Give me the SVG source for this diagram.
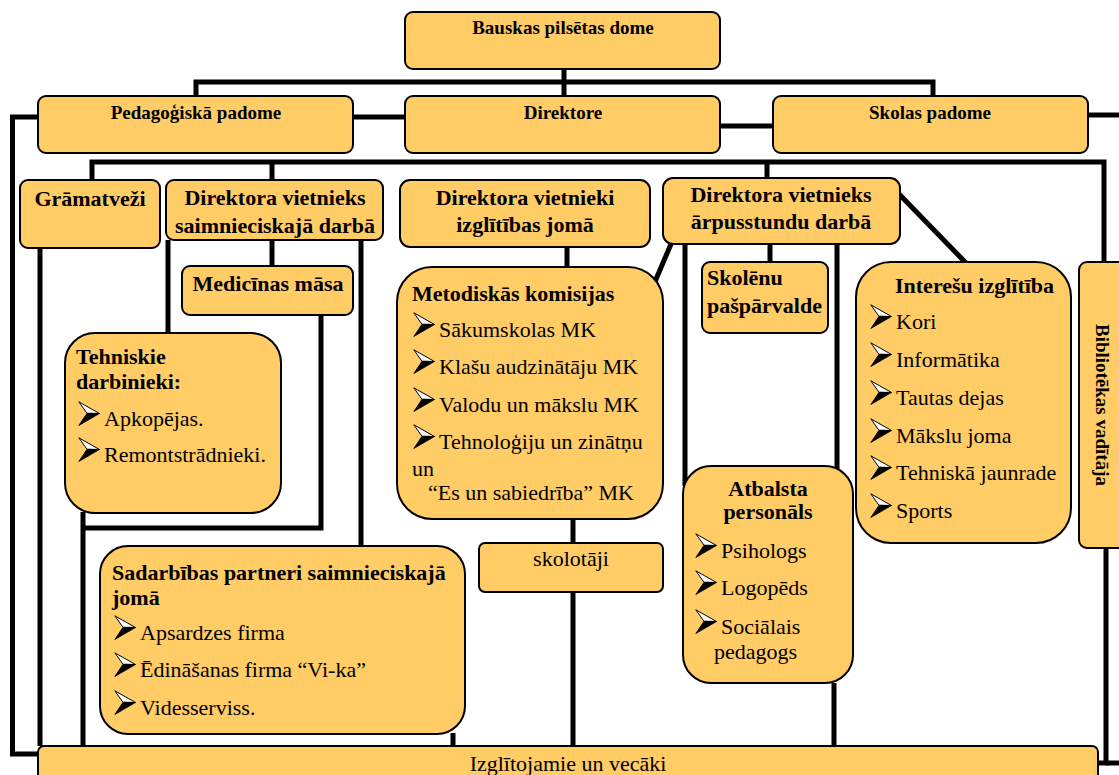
<svg xmlns="http://www.w3.org/2000/svg" width="1119" height="775" viewBox="0 0 1119 775" font-family="Liberation Serif, Times New Roman, serif">
  <style>
    .box { fill: #FFCC66; stroke: #000; stroke-width: 2; }
    .wire { fill: none; stroke: #000; stroke-width: 5; stroke-linejoin: miter; }
    text { font-family: 'Liberation Serif', 'Times New Roman', serif; fill: #000; }
    .h19 { font-size: 19px; font-weight: bold; text-anchor: middle; }
    .h22 { font-size: 22px; font-weight: bold; }
    .c { text-anchor: middle; }
    .r22 { font-size: 22px; }
  </style>
  <defs>
    <!-- arrowhead bullet used in the lists -->
    <symbol id="bullet" viewBox="0 0 22 25">
      <polygon points="0.8,0.8 21.5,12.5 9,12.3" fill="#fff" stroke="#000" stroke-width="1"/>
      <polygon points="9,12.3 21.5,12.5 0.8,24.5" fill="#000" stroke="#000" stroke-width="0.8"/>
    </symbol>
  </defs>

  <rect width="1119" height="775" fill="#fff"/>

  <!-- connectors -->
  <g id="connectors" class="wire">
    <path d="M564,68 V96"/>
    <path d="M196,96 V82 H933 V96"/>
    <path d="M353,117 H405"/>
    <path d="M720,126 H773"/>
    <path d="M1088,115 H1119"/>
    <path d="M38,117 H12.5 V754 H40"/>
    <path d="M92,180 V162 H1104 V262"/>
    <path d="M272,162 V180"/>
    <path d="M767,162 V178"/>
    <path d="M40,248 V746"/>
    <path d="M168,240 V333"/>
    <path d="M272,240 V266"/>
    <path d="M361,240 V546"/>
    <path d="M321,315 V528 H83"/>
    <path d="M83,512 V746"/>
    <path d="M567,247 V267"/>
    <path d="M573,519 V543"/>
    <path d="M573,592 V746"/>
    <path d="M671,244 L654,284"/>
    <path d="M685,244 V486"/>
    <path d="M770,244 V262"/>
    <path d="M837,244 V469"/>
    <path d="M899,194 L966,263"/>
    <path d="M834,683 V746"/>
    <path d="M453,733 V746"/>
    <path d="M1106,548 V763 H1098"/>
    <path d="M1106,763 H1119"/>
  </g>

  <g id="dome">
    <rect class="box" x="405" y="12" width="315" height="57" rx="8"/>
    <text class="h19" x="563" y="34">Bauskas pilsētas dome</text>
  </g>
  <g id="pedagogiska-padome">
    <rect class="box" x="38" y="96" width="315" height="57" rx="8"/>
    <text class="h19" x="196" y="119">Pedagoģiskā padome</text>
  </g>
  <g id="direktore">
    <rect class="box" x="405" y="96" width="315" height="57" rx="8"/>
    <text class="h19" x="563" y="119">Direktore</text>
  </g>
  <g id="skolas-padome">
    <rect class="box" x="773" y="96" width="315" height="57" rx="8"/>
    <text class="h19" x="930" y="119">Skolas padome</text>
  </g>

  <g id="gramatvezi">
    <rect class="box" x="20" y="180" width="140" height="68" rx="8"/>
    <text class="h22 c" x="90" y="206">Grāmatveži</text>
  </g>
  <g id="vietnieks-saimn">
    <rect class="box" x="166" y="180" width="217" height="60" rx="8"/>
    <text class="h22 c" x="275" y="205">Direktora vietnieks</text>
    <text class="h22 c" x="275" y="233">saimnieciskajā darbā</text>
  </g>
  <g id="vietnieki-izgl">
    <rect class="box" x="400" y="180" width="250" height="67" rx="10"/>
    <text class="h22 c" x="525" y="205">Direktora vietnieki</text>
    <text class="h22 c" x="525" y="232">izglītības jomā</text>
  </g>
  <g id="vietnieks-arpus">
    <rect class="box" x="663" y="178" width="237" height="66" rx="10"/>
    <text class="h22 c" x="781" y="202">Direktora vietnieks</text>
    <text class="h22 c" x="781" y="229">ārpusstundu darbā</text>
  </g>

  <g id="medicinas-masa">
    <rect class="box" x="182" y="266" width="171" height="49" rx="8"/>
    <text class="h22 c" x="268" y="291">Medicīnas māsa</text>
  </g>

  <g id="tehniskie">
    <rect class="box" x="65" y="333" width="216" height="180" rx="30"/>
    <text class="h22" x="76" y="364">Tehniskie</text>
    <text class="h22" x="76" y="389">darbinieki:</text>
    <use href="#bullet" x="78" y="401" width="22" height="25"/>
    <text class="r22" x="104" y="426">Apkopējas.</text>
    <use href="#bullet" x="78" y="437" width="22" height="25"/>
    <text class="r22" x="104" y="462">Remontstrādnieki.</text>
  </g>

  <g id="metodiskas">
    <rect class="box" x="397" y="267" width="266" height="252" rx="35"/>
    <text class="h22" x="412" y="301">Metodiskās komisijas</text>
    <use href="#bullet" x="413" y="312" width="22" height="25"/>
    <text class="r22" x="439" y="337">Sākumskolas MK</text>
    <use href="#bullet" x="413" y="349" width="22" height="25"/>
    <text class="r22" x="439" y="374">Klašu audzinātāju MK</text>
    <use href="#bullet" x="413" y="387" width="22" height="25"/>
    <text class="r22" x="439" y="412">Valodu un mākslu MK</text>
    <use href="#bullet" x="413" y="424" width="22" height="25"/>
    <text class="r22" x="439" y="449">Tehnoloģiju un zinātņu</text>
    <text class="r22" x="412" y="476">un</text>
    <text class="r22" x="428" y="500">“Es un sabiedrība” MK</text>
  </g>

  <g id="skolotaji">
    <rect class="box" x="479" y="543" width="184" height="49" rx="6"/>
    <text class="r22 c" x="571" y="566">skolotāji</text>
  </g>

  <g id="skolenu-pasparvalde">
    <rect class="box" x="702" y="262" width="126" height="71" rx="8"/>
    <text class="h22" x="707" y="285">Skolēnu</text>
    <text class="h22" x="707" y="313">pašpārvalde</text>
  </g>

  <g id="interesu-izglitiba">
    <rect class="box" x="856" y="262" width="215" height="281" rx="35"/>
    <text class="h22" x="895" y="293">Interešu izglītība</text>
    <use href="#bullet" x="870" y="304" width="22" height="25"/>
    <text class="r22" x="896" y="329">Kori</text>
    <use href="#bullet" x="870" y="342" width="22" height="25"/>
    <text class="r22" x="896" y="367">Informātika</text>
    <use href="#bullet" x="870" y="380" width="22" height="25"/>
    <text class="r22" x="896" y="405">Tautas dejas</text>
    <use href="#bullet" x="870" y="418" width="22" height="25"/>
    <text class="r22" x="896" y="443">Mākslu joma</text>
    <use href="#bullet" x="870" y="455" width="22" height="25"/>
    <text class="r22" x="896" y="480">Tehniskā jaunrade</text>
    <use href="#bullet" x="870" y="493" width="22" height="25"/>
    <text class="r22" x="896" y="518">Sports</text>
  </g>

  <g id="biblioteka">
    <rect class="box" x="1079" y="262" width="60" height="286" rx="8"/>
    <text class="h19" transform="translate(1096 405) rotate(90)">Bibliotēkas vadītāja</text>
  </g>

  <g id="atbalsta-personals">
    <rect class="box" x="683" y="466" width="170" height="217" rx="28"/>
    <text class="h22 c" x="768" y="496">Atbalsta</text>
    <text class="h22 c" x="768" y="519">personāls</text>
    <use href="#bullet" x="695" y="533" width="22" height="25"/>
    <text class="r22" x="721" y="558">Psihologs</text>
    <use href="#bullet" x="695" y="570" width="22" height="25"/>
    <text class="r22" x="721" y="595">Logopēds</text>
    <use href="#bullet" x="695" y="609" width="22" height="25"/>
    <text class="r22" x="721" y="634">Sociālais</text>
    <text class="r22" x="714" y="659">pedagogs</text>
  </g>

  <g id="sadarbibas-partneri">
    <rect class="box" x="100" y="546" width="365" height="188" rx="28"/>
    <text class="h22" x="112" y="580">Sadarbības partneri saimnieciskajā</text>
    <text class="h22" x="112" y="605">jomā</text>
    <use href="#bullet" x="114" y="615" width="22" height="25"/>
    <text class="r22" x="140" y="640">Apsardzes firma</text>
    <use href="#bullet" x="114" y="652" width="22" height="25"/>
    <text class="r22" x="140" y="677">Ēdināšanas firma “Vi-ka”</text>
    <use href="#bullet" x="114" y="690" width="22" height="25"/>
    <text class="r22" x="140" y="715">Videsserviss.</text>
  </g>

  <g id="izglitojamie">
    <rect class="box" x="38" y="746" width="1060" height="50" rx="6"/>
    <text class="r22 c" x="568" y="771">Izglītojamie un vecāki</text>
  </g>
</svg>
